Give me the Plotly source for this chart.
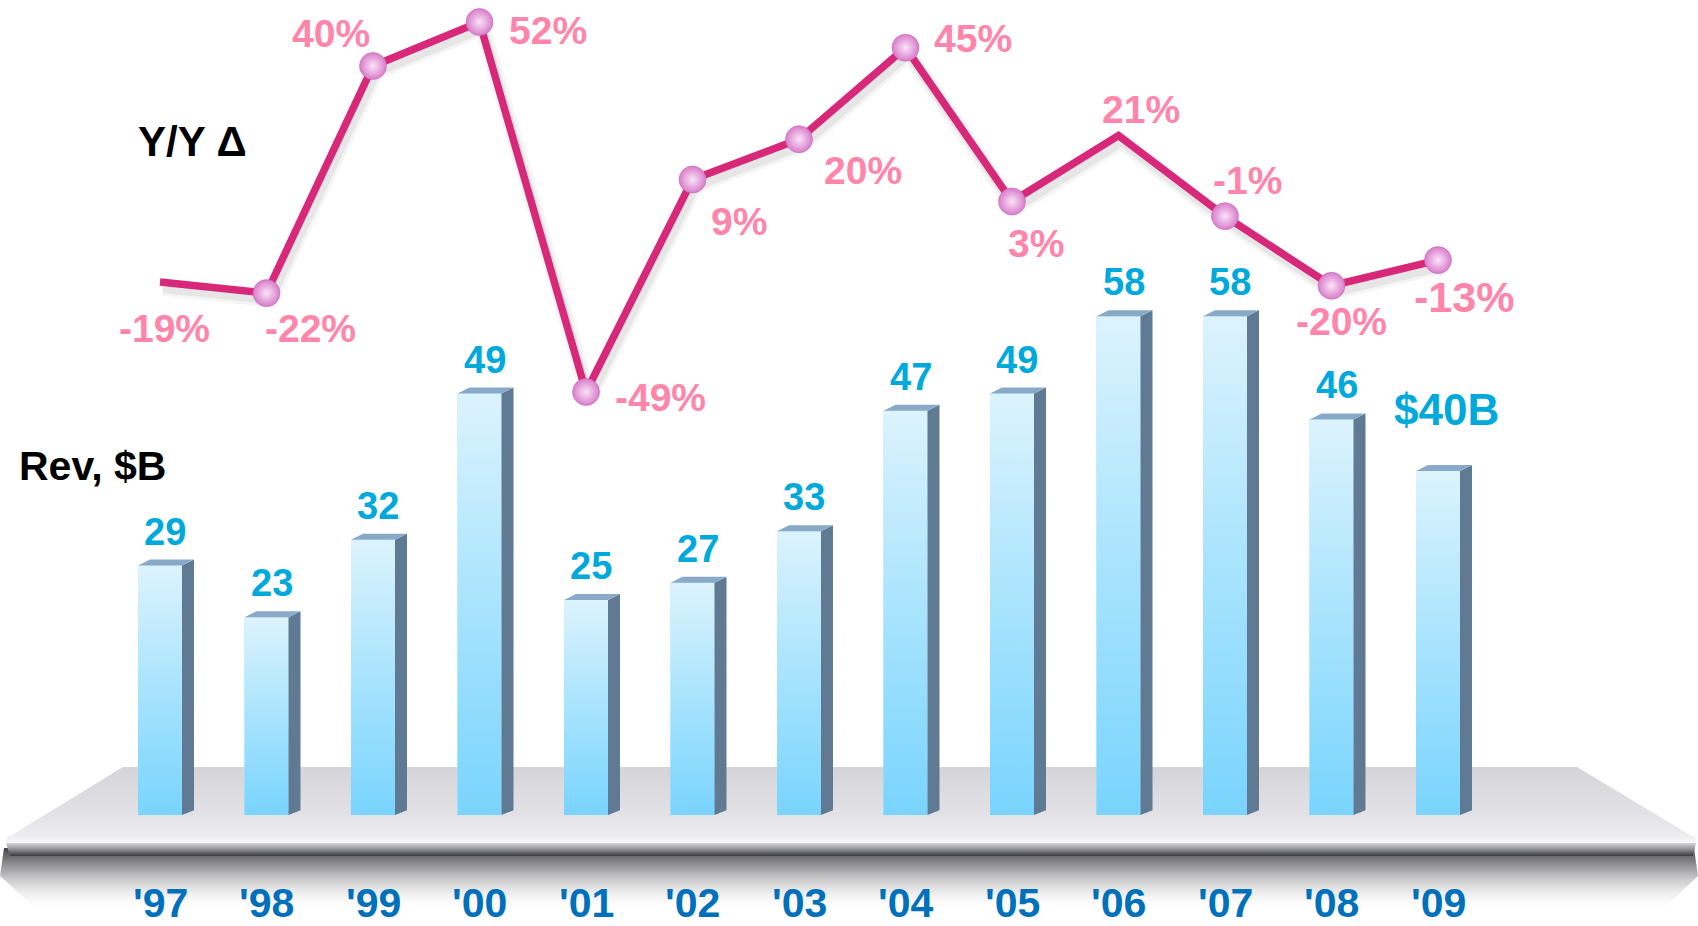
import plotly.graph_objects as go

# ---------------- data ----------------
years = ["'97", "'98", "'99", "'00", "'01", "'02", "'03", "'04", "'05", "'06", "'07", "'08", "'09"]
revenue = [29, 23, 32, 49, 25, 27, 33, 47, 49, 58, 58, 46, 40]
revenue_labels = ["29", "23", "32", "49", "25", "27", "33", "47", "49", "58", "58", "46", "$40B"]
yoy = [-19, -22, 40, 52, -49, 9, 20, 45, 3, 21, -1, -20, -13]
yoy_labels = [f"{v}%" for v in yoy]
has_marker = [False, True, True, True, True, True, True, True, True, False, True, True, True]

# ---------------- geometry / styles ----------------
W, H = 1698, 926
X0_PX, STEP_PX = 160, 106.5          # first category centre, category spacing (px)
BASE_PX, REV_PX = 815, 8.6           # revenue baseline (px from top), px per $B
ZERO_PX, PCT_PX = 212.5, 3.663       # 0% line (px from top), px per %

x_range = [-X0_PX / STEP_PX, (W - X0_PX) / STEP_PX]
rev_range = [-(H - BASE_PX) / REV_PX, BASE_PX / REV_PX]
pct_range = [-(H - ZERO_PX) / PCT_PX, ZERO_PX / PCT_PX]

FRONT_W = 44 / STEP_PX
DEPTH_X = 12 / STEP_PX
DEPTH_Y = 6 / REV_PX

FONT = "Liberation Sans, Arial, sans-serif"
FRONT_BOTTOM, FRONT_TOP = "#79D4FE", "#DCF3FD"
SIDE_COLOR = "#607A94"
TOPFACE_COLOR = "#88A9C8"
LINE_COLOR = "#D8287A"
PCT_COLOR = "#FF85AA"
VAL_COLOR = "#00A9DB"
YEAR_COLOR = "#0070BA"

# label offsets (px) relative to data point: (xshift, yshift)
pct_offsets = [(4, -46), (44, -35), (-42, 32), (68, -8), (74, -6), (46, -42), (64, -31),
               (67, 9), (24, -42), (22, 26), (22, 36), (10, -36), (26, -37)]
pct_sizes = [39] * 12 + [43]
val_offsets = [(5, 34)] * 12 + [(8, 62)]
val_sizes = [38] * 12 + [44]

fig = go.Figure()

# ---------------- platform (pixel axes x / y) ----------------
def poly(pts):
    xs = [p[0] for p in pts] + [pts[0][0]]
    ys = [p[1] for p in pts] + [pts[0][1]]
    return xs, ys

platform = [
    # shadow
    ([(4, 848), (1694, 848), (1698, 876), (1660, 912), (40, 912), (0, 876)],
     848, 912, [[0, "rgba(55,55,60,0.95)"], [0.35, "rgba(110,110,115,0.6)"], [1, "rgba(255,255,255,0)"]]),
    # slab top
    ([(123, 767), (1577, 767), (1695, 838), (7, 838)],
     767, 838, [[0, "#D4D4D9"], [0.7, "#E3E3E7"], [1, "#EEEEF2"]]),
    # front highlight + edge
    ([(7, 836), (1695, 836), (1696, 844), (6, 844)],
     836, 844, [[0, "#EEEEF2"], [1, "#F8F8FA"]]),
    ([(6, 843), (1696, 843), (1693, 856), (10, 856)],
     843, 856, [[0, "#D6D6DA"], [0.5, "#8C8C92"], [1, "#3A3A42"]]),
]
for pts, s, e, cs in platform:
    xs, ys = poly(pts)
    fig.add_trace(go.Scatter(
        x=xs, y=ys, xaxis="x", yaxis="y", mode="lines", line=dict(width=0),
        fill="toself", fillgradient=dict(type="vertical", start=s, stop=e, colorscale=cs),
        hoverinfo="skip", showlegend=False))

# ---------------- bars (x2 / y2) ----------------
idx = list(range(len(years)))
fig.add_trace(go.Bar(
    x=idx, y=revenue, width=FRONT_W, xaxis="x2", yaxis="y2",
    marker=dict(color="#A6E3FD", line=dict(width=0)), hoverinfo="skip", showlegend=False))

# gradient overlay of front faces
for i, v in zip(idx, revenue):
    l, r = i - FRONT_W / 2, i + FRONT_W / 2
    fig.add_trace(go.Scatter(
        x=[l, r, r, l, l], y=[0, 0, v, v, 0], xaxis="x2", yaxis="y2",
        mode="lines", line=dict(width=0), fill="toself",
        fillgradient=dict(type="vertical", start=0, stop=v,
                          colorscale=[[0, FRONT_BOTTOM], [0.55, "#ADE5FD"], [1, FRONT_TOP]]),
        hoverinfo="skip", showlegend=False))

# side faces
sx, sy = [], []
for i, v in zip(idx, revenue):
    r = i + FRONT_W / 2
    sx += [r, r + DEPTH_X, r + DEPTH_X, r, r, None]
    sy += [0, DEPTH_Y * 0.8, v + DEPTH_Y, v, 0, None]
fig.add_trace(go.Scatter(x=sx, y=sy, xaxis="x2", yaxis="y2", mode="lines",
                         line=dict(width=0), fill="toself", fillcolor=SIDE_COLOR,
                         hoverinfo="skip", showlegend=False))
# top faces
tx, ty = [], []
for i, v in zip(idx, revenue):
    l, r = i - FRONT_W / 2, i + FRONT_W / 2
    tx += [l, r, r + DEPTH_X, l + DEPTH_X, l, None]
    ty += [v, v, v + DEPTH_Y, v + DEPTH_Y, v, None]
fig.add_trace(go.Scatter(x=tx, y=ty, xaxis="x2", yaxis="y2", mode="lines",
                         line=dict(width=0), fill="toself", fillcolor=TOPFACE_COLOR,
                         hoverinfo="skip", showlegend=False))

# ---------------- Y/Y line (x2 / y3) ----------------
shadow_dx, shadow_dy = 3 / STEP_PX, -6 / PCT_PX
for wdt, alpha in [(16, 0.04), (10, 0.06)]:
    fig.add_trace(go.Scatter(
        x=[i + shadow_dx for i in idx], y=[v + shadow_dy for v in yoy],
        xaxis="x2", yaxis="y3", mode="lines",
        line=dict(color=f"rgba(0,0,0,{alpha})", width=wdt),
        hoverinfo="skip", showlegend=False))
fig.add_trace(go.Scatter(
    x=idx, y=yoy, xaxis="x2", yaxis="y3", mode="lines",
    line=dict(color=LINE_COLOR, width=7.5), hoverinfo="skip", showlegend=False))

mx = [i for i, m in zip(idx, has_marker) if m]
my = [v for v, m in zip(yoy, has_marker) if m]
fig.add_trace(go.Scatter(
    x=mx, y=my, xaxis="x2", yaxis="y3", mode="markers",
    marker=dict(size=27, color="#D97CCB",
                gradient=dict(type="radial", color="#FBE4F8"),
                line=dict(width=1, color="rgba(190,110,180,0.6)")),
    hoverinfo="skip", showlegend=False))

# ---------------- text ----------------
ann = []
for i, (v, t) in enumerate(zip(revenue, revenue_labels)):
    dx, dy = val_offsets[i]
    ann.append(dict(x=i, y=v, xref="x2", yref="y2", text=t, showarrow=False,
                    xshift=dx, yshift=dy, xanchor="center", yanchor="middle",
                    font=dict(family=FONT, size=val_sizes[i], color=VAL_COLOR, weight="bold")))
for i, (v, t) in enumerate(zip(yoy, yoy_labels)):
    dx, dy = pct_offsets[i]
    ann.append(dict(x=i, y=v, xref="x2", yref="y3", text=t, showarrow=False,
                    xshift=dx, yshift=dy, xanchor="center", yanchor="middle",
                    font=dict(family=FONT, size=pct_sizes[i], color=PCT_COLOR, weight="bold")))
for i, t in enumerate(years):
    ann.append(dict(x=i, y=903, xref="x2", yref="y", text=t, showarrow=False,
                    xanchor="center", yanchor="middle",
                    font=dict(family=FONT, size=41, color=YEAR_COLOR, weight="bold")))
ann.append(dict(x=136, y=141, xref="x", yref="y", text="Y/Y Δ", showarrow=False,
                xanchor="left", yanchor="middle",
                font=dict(family=FONT, size=42, color="#000000", weight="bold")))
ann.append(dict(x=17, y=466, xref="x", yref="y", text="Rev, $B", showarrow=False,
                xanchor="left", yanchor="middle",
                font=dict(family=FONT, size=41, color="#000000", weight="bold")))

hidden = dict(visible=False, showgrid=False, zeroline=False, fixedrange=True)
fig.update_layout(
    width=W, height=H, autosize=False,
    margin=dict(l=0, r=0, t=0, b=0),
    paper_bgcolor="white", plot_bgcolor="white",
    showlegend=False, hovermode=False,
    xaxis=dict(range=[0, W], domain=[0, 1], **hidden),
    yaxis=dict(range=[H, 0], domain=[0, 1], **hidden),
    xaxis2=dict(range=x_range, overlaying="x", **hidden),
    yaxis2=dict(range=rev_range, overlaying="y", **hidden),
    yaxis3=dict(range=pct_range, overlaying="y", **hidden),
    annotations=ann,
)

fig.write_html(
    "out.html",
    config={"displayModeBar": False, "staticPlot": True},
    post_script=("document.documentElement.style.margin='0';"
                 "document.body.style.margin='0';"
                 "document.body.style.overflow='hidden';"
                 "document.documentElement.style.overflow='hidden';"),
)
